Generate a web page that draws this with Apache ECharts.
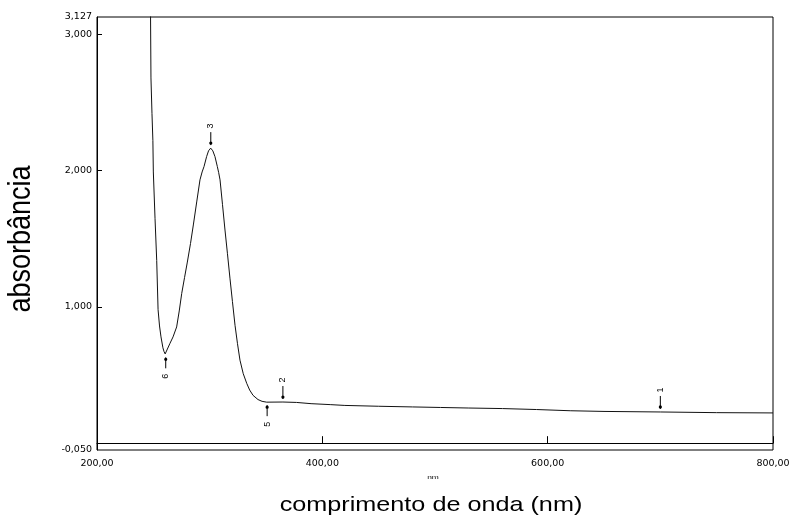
<!DOCTYPE html>
<html>
<head>
<meta charset="utf-8">
<script src="https://cdn.jsdelivr.net/npm/echarts@6/dist/echarts.min.js"></script>
<style>html,body{margin:0;padding:0;background:#fff}#c{width:790px;height:517px}</style>
</head>
<body>
<div id="c"></div>
<script>
// Spectrum: wavelength (nm) and absorbance
const wavelength = [247.3, 247.9, 248.8, 249.6, 250.0, 251.5, 253.0, 254.2, 255.5, 256.8, 258.5, 259.5, 260.5, 261.2, 262.0, 264.8,
  267.5, 270.7, 273.0, 275.2, 277.7, 280.2, 283.0, 285.5, 288.5, 291.4, 293.3, 295.0, 297.3, 299.0, 300.9,
  302.8, 304.7, 306.8, 308.0, 309.2, 311.4, 313.6, 315.8, 318.0, 320.2, 322.5, 324.7, 326.9, 329.8, 332.9,
  335.5, 338.5, 342.9, 346.5, 350.6, 365, 377, 390, 407, 420, 450, 480, 505, 530, 560, 590, 620, 650, 700, 750, 800];
const absorbance = [3.40, 2.68, 2.42, 2.22, 1.99, 1.65, 1.34, 0.98, 0.86, 0.78, 0.70, 0.672, 0.655, 0.652, 0.665, 0.733,
  0.78, 0.853, 0.97, 1.099, 1.215, 1.329, 1.465, 1.601, 1.77, 1.932, 1.99, 2.03, 2.103, 2.145, 2.165,
  2.145, 2.103, 2.03, 1.985, 1.932, 1.75, 1.564, 1.39, 1.211, 1.04, 0.865, 0.73, 0.609, 0.51, 0.439,
  0.39, 0.351, 0.320, 0.307, 0.301, 0.302, 0.299, 0.290, 0.283, 0.277, 0.271, 0.266, 0.262, 0.258, 0.254, 0.247, 0.238, 0.233, 0.229, 0.224, 0.222];

// Peak-pick markers
const markerLabels = ['1', '2', '3', '5', '6'];
const markerWl = [700, 365, 301, 351, 261];
const markerVal = [0.229, 0.302, 2.165, 0.301, 0.652];
const markerSide = [1, 1, 1, -1, -1]; // 1 = above, -1 = below

// Axis ticks / labels
const xTicks = [200, 400, 600, 800];
const yLabelValues = [-0.05, 1, 2, 3, 3.127];
const yTickValues = [1, 2, 3];

const fmt = (v, d) => v.toFixed(d).replace('.', ',');

const chart = echarts.init(document.getElementById('c'), null, {renderer: 'canvas'});
const lineData = wavelength.map((w, i) => [w, absorbance[i]]);
const markData = markerWl.map((w, i) => [w, markerVal[i], markerSide[i]]);

chart.setOption({
  animation: false,
  backgroundColor: '#fff',
  grid: {left: 97, right: 17, top: 17, bottom: 67, containLabel: false, outerBoundsMode: 'none',
    show: true, borderColor: '#000', borderWidth: 1, backgroundColor: 'transparent'},
  xAxis: {
    type: 'value', min: 200, max: 800, interval: 200,
    axisLine: {show: true, lineStyle: {color: '#000', width: 1}},
    axisTick: {show: true, inside: true, length: 7, customValues: xTicks, lineStyle: {color: '#000'}},
    axisLabel: {color: '#000', fontFamily: 'DejaVu Sans', fontSize: 9.5, margin: 9,
      customValues: xTicks, formatter: v => fmt(v, 2), showMinLabel: true, showMaxLabel: true},
    splitLine: {show: false}
  },
  yAxis: {
    type: 'value', min: -0.05, max: 3.127,
    axisLine: {show: true, lineStyle: {color: '#000', width: 1}},
    axisTick: {show: true, inside: true, length: 5, customValues: yTickValues, lineStyle: {color: '#000'}},
    axisLabel: {color: '#000', fontFamily: 'DejaVu Sans', fontSize: 9.5, margin: 5,
      customValues: yLabelValues, formatter: v => fmt(v, 3), showMinLabel: true, showMaxLabel: true},
    splitLine: {show: false}
  },
  series: [
    {
      type: 'line', data: lineData, showSymbol: false, smooth: false, clip: true,
      lineStyle: {color: '#111', width: 1},
      markLine: {
        silent: true, symbol: 'none', label: {show: false},
        lineStyle: {color: '#000', width: 1, type: 'solid'},
        data: [{yAxis: 0}]
      }
    },
    {
      type: 'custom', data: markData, clip: false, silent: true,
      renderItem: function (params, api) {
        const p = api.coord([api.value(0), api.value(1)]);
        const d = api.value(2);
        const lab = markerLabels[params.dataIndex];
        const y1 = d > 0 ? p[1] - 3 : p[1] + 3;
        const y2 = d > 0 ? p[1] - 16 : p[1] + 14;
        const yd = d > 0 ? p[1] - 5 : p[1] + 5;
        const yt = d > 0 ? p[1] - 22 : p[1] + 22;
        return {
          type: 'group',
          children: [
            {type: 'line', shape: {x1: p[0], y1: y1, x2: p[0], y2: y2}, style: {stroke: '#000', lineWidth: 1}},
            {type: 'circle', shape: {cx: p[0], cy: yd, r: 1.6}, style: {fill: '#000'}},
            {type: 'text', x: p[0], y: yt, rotation: Math.PI / 2,
              style: {text: lab, fill: '#000', font: '9px "Liberation Sans", Arial', textAlign: 'center', textVerticalAlign: 'middle'}}
          ]
        };
      }
    }
  ],
  graphic: [
    {type: 'text', x: 431, y: 505, scaleX: 1.2,
      style: {text: 'comprimento de onda (nm)', fill: '#000', font: '21px "Liberation Sans", Arial', textAlign: 'center', textVerticalAlign: 'middle'}},
    {type: 'text', x: 21.5, y: 239, rotation: Math.PI / 2, scaleY: 1.19,
      style: {text: 'absorbância', fill: '#000', font: '27px "Liberation Sans", Arial', textAlign: 'center', textVerticalAlign: 'middle'}},
    {type: 'text', x: 433, y: 477, scaleX: 1.4,
      style: {text: 'nm', fill: '#000', font: '6px "Liberation Sans", Arial', textAlign: 'center', textVerticalAlign: 'middle'}}
  ]
});
</script>
</body>
</html>
